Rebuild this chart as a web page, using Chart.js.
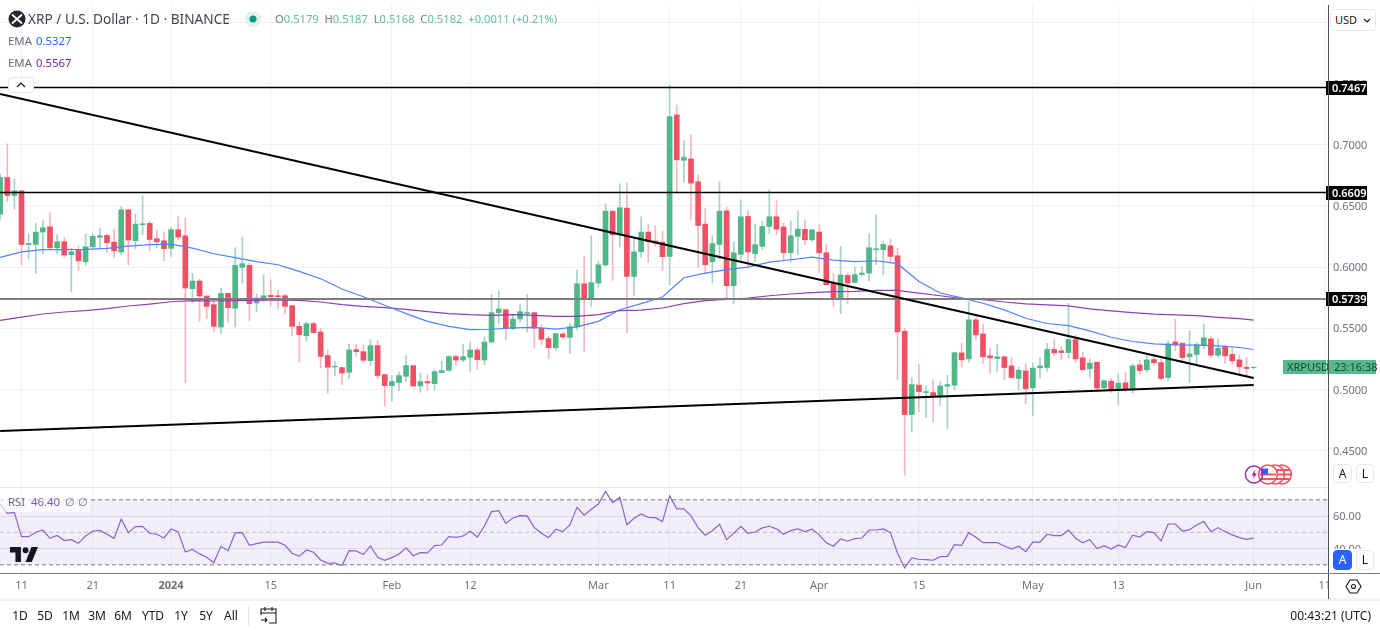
<!DOCTYPE html>
<html>
<head>
<meta charset="utf-8">
<title>XRP / U.S. Dollar</title>
<script src="https://cdn.jsdelivr.net/npm/chart.js@4"></script>
<style>
	html, body { margin: 0; padding: 0; background: #fff; overflow: hidden; }
	body { width: 1380px; height: 631px; position: relative; font-family: "Noto Sans", sans-serif; color: #555a66; }
	canvas { position: absolute; left: 0; }
	.txt { position: absolute; white-space: nowrap; line-height: 16px; }
	.box { position: absolute; box-sizing: border-box; background: #fff; }
	.btn { position: absolute; box-sizing: border-box; background: #fff; border: 1px solid #e6e8ee; border-radius: 4px; text-align: center; font-size: 12px; color: #131722; }
	.range { position: absolute; top: 608px; font-size: 12px; line-height: 16px; color: #131722; transform: translateX(-50%); }
</style>
</head>
<body>
<canvas id="priceChart" width="1380" height="482" style="top:5px"></canvas>
<canvas id="rsiChart" width="1380" height="112" style="top:488px"></canvas>

<!-- frame -->
<div class="box" style="left:0;top:487px;width:1328px;height:1px;background:#e3e6ee"></div>
<div class="box" style="left:1328px;top:574px;width:52px;height:25px"></div>
<div class="box" style="left:0;top:573px;width:1328px;height:1px;background:#7c7f86"></div>
<div class="box" style="left:0;top:598px;width:1380px;height:3px;background:#f0f3fa"></div>
<div class="box" style="left:1328px;top:5px;width:1px;height:594px;background:#50535c"></div>
<div class="box" style="left:1328px;top:573px;width:52px;height:1px;background:#7c7f86"></div>

<!-- header -->
<svg style="position:absolute;left:8px;top:10px" width="18" height="18" viewBox="0 0 18 18">
	<circle cx="9" cy="9" r="8.5" fill="#23262e"/>
	<path d="M4.5 5 L13.5 13 M13.5 5 L4.5 13" stroke="#fff" stroke-width="1.8" stroke-linecap="round"/>
</svg>
<div class="txt" style="left:28px;top:11px;font-size:13.65px;color:#434651">XRP / U.S. Dollar · 1D · BINANCE</div>
<svg style="position:absolute;left:244px;top:10px" width="18" height="18" viewBox="0 0 18 18">
	<circle cx="9" cy="9" r="8" fill="#dff1ec"/>
	<circle cx="9" cy="9" r="3.5" fill="#089981"/>
</svg>
<div class="txt" style="left:275px;top:11px;font-size:11.2px;color:#5cc29a">
	<span style="color:#787b86">O</span>0.5179&nbsp; <span style="color:#787b86">H</span>0.5187&nbsp; <span style="color:#787b86">L</span>0.5168&nbsp; <span style="color:#787b86">C</span>0.5182&nbsp; +0.0011 (+0.21%)
</div>
<div class="txt" style="left:8px;top:33px;font-size:11.4px;color:#6a6d78">EMA</div>
<div class="txt" style="left:36px;top:33px;font-size:11.4px;color:#2962ff">0.5327</div>
<div class="txt" style="left:8px;top:55px;font-size:11.4px;color:#6a6d78">EMA</div>
<div class="txt" style="left:36px;top:55px;font-size:11.4px;color:#7b1fa2">0.5567</div>
<div class="btn" style="left:8px;top:77px;width:26px;height:16px;border-radius:3px">
	<svg style="display:block;margin:4px auto 0" width="10" height="6" viewBox="0 0 10 6"><path d="M1 5 L5 1 L9 5" fill="none" stroke="#131722" stroke-width="1.2"/></svg>
</div>

<!-- USD button -->
<div class="btn" style="left:1330px;top:9px;width:46px;height:22px;text-align:left;padding:2px 0 0 4px;font-size:11px;line-height:16px">USD
	<svg style="position:absolute;right:4px;top:8px" width="8" height="5" viewBox="0 0 8 5"><path d="M1 1 L4 4 L7 1" fill="none" stroke="#131722" stroke-width="1.1"/></svg>
</div>

<!-- event markers -->
<svg style="position:absolute;left:1244px;top:464px" width="52" height="22" viewBox="0 0 52 22">
	<circle cx="38" cy="10.500" r="9.400" fill="#fff" stroke="#f7525f" stroke-width="1.500"/>
	<path d="M30 6h16M29 10.500h18M30 15h16" stroke="#f7525f" stroke-width="2"/>
	<circle cx="31" cy="10.500" r="9.400" fill="#fff" stroke="#f7525f" stroke-width="1.500"/>
	<path d="M23 6h16M22 10.500h18M23 15h16" stroke="#f7525f" stroke-width="2"/>
	<circle cx="24" cy="10.500" r="9.400" fill="#fff" stroke="#f7525f" stroke-width="1.500"/>
	<path d="M16 10.500h16M16 15h16" stroke="#f7525f" stroke-width="2"/>
	<rect x="17" y="4.500" width="7" height="6" fill="#2962ff"/>
	<circle cx="10" cy="10.500" r="8.600" fill="#fff" fill-opacity="0" stroke="#9c27b0" stroke-width="1.500"/>
	<path d="M11.500 5.500 L7.500 11.500 H10 L8.500 15.500 L13 9.500 H10.500 Z" fill="#9c27b0"/>
</svg>

<!-- scale buttons -->
<div class="btn" style="left:1333px;top:464px;width:19px;height:19px;line-height:17px">A</div>
<div class="btn" style="left:1356px;top:464px;width:18px;height:19px;line-height:17px">L</div>
<div class="box" style="left:1330px;top:549px;width:50px;height:24px"></div>
<div class="btn" style="left:1333px;top:550px;width:19px;height:20px;line-height:18px;background:#2962ff;border-color:#2962ff;color:#fff">A</div>
<div class="btn" style="left:1356px;top:550px;width:18px;height:20px;line-height:18px">L</div>

<!-- rsi legend -->
<div class="box" style="left:0;top:495px;width:90px;height:17px;background:rgba(255,255,255,0.65)"></div>
<div class="txt" style="left:8px;top:494px;font-size:11.4px;color:#6a6d78">RSI</div>
<div class="txt" style="left:31px;top:494px;font-size:11.4px;color:#7e57c2">46.40</div>
<div class="txt" style="left:65px;top:494px;font-size:11.4px;color:#6a6d78">∅ ∅</div>
<svg style="position:absolute;left:10px;top:547px" width="28" height="15" viewBox="0 0 36 19">
	<path d="M14 0H0v7h7v12h7V0zM28 19h-8L27.500 0H36l-8 19z" fill="#131722"/>
	<circle cx="20" cy="4" r="3.800" fill="#131722"/>
</svg>

<!-- settings -->
<svg style="position:absolute;left:1345px;top:578px" width="17" height="17" viewBox="0 0 17 17">
	<path d="M5 2h7l4 6.500-4 6.500H5L1 8.500z" fill="none" stroke="#131722" stroke-width="1.100"/>
	<circle cx="8.500" cy="8.500" r="2" fill="none" stroke="#131722" stroke-width="1.100"/>
</svg>

<!-- bottom bar -->
<div class="range" style="left:20px">1D</div>
<div class="range" style="left:45px">5D</div>
<div class="range" style="left:71px">1M</div>
<div class="range" style="left:97px">3M</div>
<div class="range" style="left:123px">6M</div>
<div class="range" style="left:153px">YTD</div>
<div class="range" style="left:181px">1Y</div>
<div class="range" style="left:206px">5Y</div>
<div class="range" style="left:231px">All</div>
<div class="box" style="left:248px;top:606px;width:1px;height:20px;background:#e0e3eb"></div>
<svg style="position:absolute;left:260px;top:606px" width="18" height="19" viewBox="0 0 18 19">
	<path d="M1 9V3h15v14H9M1 7h15M5 1v4M12 1v4M1 14h6M5 12l2 2-2 2" fill="none" stroke="#131722" stroke-width="1.100"/>
</svg>
<div class="txt" style="right:9px;top:608px;font-size:12px;color:#131722">00:43:21 (UTC)</div>

<script>
// daily candles, first one is Dec 8 2023 (day 0 = Dec 11), last one Jun 1 2024
const firstDay = -3;

const opens = [
	0.6433, 0.6732, 0.6585, 0.6623,
	0.6183, 0.6185, 0.6286, 0.6329, 0.6158, 0.6207, 0.6101, 0.6136, 0.6044, 0.6166,
	0.6245, 0.6259, 0.6204, 0.6123, 0.6468, 0.6215, 0.6346, 0.6357, 0.6232, 0.6215,
	0.6153, 0.6305, 0.6256, 0.5824, 0.5886, 0.5764, 0.5693, 0.5511, 0.5785, 0.5663,
	0.5998, 0.6014, 0.5707, 0.5745, 0.5769, 0.5766, 0.5766, 0.5685, 0.5516, 0.5440,
	0.5538, 0.5470, 0.5277, 0.5184, 0.5179, 0.5141, 0.5326, 0.5309, 0.5236, 0.5358,
	0.5122, 0.5032, 0.5057, 0.5108, 0.5195, 0.5029, 0.5065, 0.5048, 0.5138, 0.5157,
	0.5269, 0.5241, 0.5263, 0.5323, 0.5241, 0.5388, 0.5628, 0.5652, 0.5497, 0.5576,
	0.5620, 0.5628, 0.5500, 0.5416, 0.5342, 0.5454, 0.5426, 0.5513, 0.5864, 0.5745,
	0.5870, 0.6017, 0.6457, 0.6264, 0.6482, 0.5924, 0.6125, 0.6286, 0.6213, 0.6204,
	0.6087, 0.7243, 0.6873, 0.6884, 0.6697, 0.6351, 0.6044, 0.6185, 0.6460, 0.5848,
	0.6104, 0.6414, 0.6109, 0.6169, 0.6332, 0.6411, 0.6327, 0.6117, 0.6251, 0.6308,
	0.6223, 0.6286, 0.6117, 0.5870, 0.5745, 0.5932, 0.5875, 0.5941, 0.5951, 0.6142,
	0.6142, 0.6174, 0.6093, 0.5475, 0.4795, 0.5035, 0.4975, 0.4975, 0.4948, 0.5027,
	0.5035, 0.5299, 0.5250, 0.5569, 0.5454, 0.5275, 0.5253, 0.5267, 0.5193, 0.5090,
	0.5152, 0.5014, 0.5177, 0.5180, 0.5327, 0.5316, 0.5302, 0.5408, 0.5259, 0.5169,
	0.5223, 0.5014, 0.5068, 0.5003, 0.5055, 0.5003, 0.5201, 0.5161, 0.5245, 0.5220,
	0.5098, 0.5389, 0.5378, 0.5267, 0.5286, 0.5362, 0.5414, 0.5280, 0.5351, 0.5286,
	0.5242, 0.5182, 0.5179
];
const highs = [
	0.6759, 0.7007, 0.6718, 0.6623,
	0.6270, 0.6359, 0.6387, 0.6444, 0.6264, 0.6240, 0.6155, 0.6174, 0.6272, 0.6272,
	0.6319, 0.6272, 0.6310, 0.6495, 0.6468, 0.6436, 0.6582, 0.6373, 0.6305, 0.6289,
	0.6319, 0.6417, 0.6403, 0.5951, 0.5902, 0.5764, 0.5734, 0.5829, 0.5785, 0.6158,
	0.6245, 0.6033, 0.5780, 0.5938, 0.5897, 0.5810, 0.5775, 0.5685, 0.5549, 0.5552,
	0.5552, 0.5503, 0.5323, 0.5231, 0.5184, 0.5372, 0.5367, 0.5364, 0.5407, 0.5399,
	0.5122, 0.5114, 0.5144, 0.5277, 0.5195, 0.5135, 0.5122, 0.5163, 0.5231, 0.5277,
	0.5285, 0.5367, 0.5388, 0.5339, 0.5429, 0.5775, 0.5807, 0.5658, 0.5617, 0.5693,
	0.5775, 0.5628, 0.5530, 0.5435, 0.5462, 0.5467, 0.5538, 0.5976, 0.6087, 0.6256,
	0.6047, 0.6517, 0.6457, 0.6680, 0.6689, 0.6229, 0.6411, 0.6351, 0.6338, 0.6291,
	0.7488, 0.7325, 0.7031, 0.7080, 0.6754, 0.6479, 0.6256, 0.6697, 0.6490, 0.6204,
	0.6550, 0.6460, 0.6354, 0.6373, 0.6631, 0.6542, 0.6359, 0.6378, 0.6460, 0.6387,
	0.6310, 0.6346, 0.6191, 0.5946, 0.6169, 0.5951, 0.6000, 0.6006, 0.6272, 0.6427,
	0.6210, 0.6229, 0.6155, 0.5503, 0.5095, 0.5203, 0.5032, 0.5081, 0.5067, 0.5116,
	0.5304, 0.5378, 0.5718, 0.5596, 0.5533, 0.5337, 0.5370, 0.5275, 0.5261, 0.5182,
	0.5210, 0.5215, 0.5261, 0.5378, 0.5411, 0.5351, 0.5705, 0.5446, 0.5302, 0.5248,
	0.5223, 0.5079, 0.5093, 0.5128, 0.5139, 0.5210, 0.5242, 0.5283, 0.5283, 0.5256,
	0.5397, 0.5574, 0.5378, 0.5479, 0.5384, 0.5536, 0.5433, 0.5411, 0.5365, 0.5337,
	0.5283, 0.5264, 0.5187
];
const lows = [
	0.6392, 0.6536, 0.6474, 0.6019,
	0.6068, 0.5949, 0.6109, 0.6142, 0.6109, 0.6082, 0.5802, 0.5973, 0.6014, 0.6155,
	0.6161, 0.6120, 0.6079, 0.6101, 0.6017, 0.6147, 0.6264, 0.6134, 0.6155, 0.6052,
	0.6087, 0.6226, 0.5054, 0.5707, 0.5557, 0.5579, 0.5470, 0.5456, 0.5552, 0.5511,
	0.5870, 0.5562, 0.5633, 0.5720, 0.5685, 0.5658, 0.5617, 0.5440, 0.5222, 0.5394,
	0.5462, 0.5176, 0.4972, 0.5116, 0.5040, 0.5089, 0.5271, 0.5222, 0.5198, 0.5086,
	0.4863, 0.4904, 0.4991, 0.5067, 0.5027, 0.4978, 0.4991, 0.4994, 0.5135, 0.5149,
	0.5195, 0.5225, 0.5149, 0.5163, 0.5203, 0.5380, 0.5535, 0.5407, 0.5489, 0.5549,
	0.5470, 0.5337, 0.5367, 0.5255, 0.5320, 0.5413, 0.5296, 0.5484, 0.5312, 0.5679,
	0.5834, 0.6006, 0.5892, 0.6164, 0.5467, 0.5766, 0.6079, 0.6038, 0.6169, 0.5973,
	0.5856, 0.6604, 0.6691, 0.6392, 0.5998, 0.5951, 0.5870, 0.6060, 0.5734, 0.5698,
	0.6060, 0.5992, 0.6047, 0.6142, 0.6272, 0.6264, 0.6060, 0.6038, 0.6101, 0.6183,
	0.6210, 0.5957, 0.5856, 0.5679, 0.5620, 0.5701, 0.5870, 0.5924, 0.5889, 0.6019,
	0.5938, 0.6033, 0.5081, 0.4300, 0.4654, 0.4817, 0.4771, 0.4736, 0.4869, 0.4681,
	0.4999, 0.5182, 0.5223, 0.5411, 0.5215, 0.5133, 0.5147, 0.5079, 0.5093, 0.4992,
	0.4883, 0.4788, 0.5093, 0.5147, 0.5275, 0.5242, 0.5256, 0.5220, 0.5161, 0.5093,
	0.4992, 0.5003, 0.4976, 0.4875, 0.4984, 0.4970, 0.5128, 0.5139, 0.5201, 0.5079,
	0.5071, 0.5318, 0.5220, 0.5057, 0.5201, 0.5332, 0.5261, 0.5264, 0.5215, 0.5201,
	0.5120, 0.5112, 0.5168
];
const closes = [
	0.6732, 0.6585, 0.6623, 0.6185,
	0.6193, 0.6286, 0.6321, 0.6158, 0.6207, 0.6098, 0.6125, 0.6052, 0.6166, 0.6251,
	0.6256, 0.6199, 0.6134, 0.6468, 0.6221, 0.6351, 0.6354, 0.6226, 0.6207, 0.6150,
	0.6305, 0.6245, 0.5829, 0.5886, 0.5764, 0.5679, 0.5516, 0.5785, 0.5669, 0.6014,
	0.6028, 0.5701, 0.5747, 0.5766, 0.5758, 0.5758, 0.5679, 0.5516, 0.5448, 0.5538,
	0.5465, 0.5271, 0.5182, 0.5190, 0.5135, 0.5323, 0.5309, 0.5239, 0.5358, 0.5114,
	0.5032, 0.5065, 0.5114, 0.5195, 0.5029, 0.5065, 0.5054, 0.5146, 0.5154, 0.5269,
	0.5241, 0.5269, 0.5323, 0.5244, 0.5388, 0.5628, 0.5658, 0.5497, 0.5576, 0.5636,
	0.5628, 0.5500, 0.5410, 0.5342, 0.5456, 0.5429, 0.5513, 0.5864, 0.5745, 0.5873,
	0.6019, 0.6457, 0.6264, 0.6485, 0.5924, 0.6125, 0.6286, 0.6207, 0.6196, 0.6085,
	0.7230, 0.6876, 0.6898, 0.6686, 0.6340, 0.6019, 0.6191, 0.6457, 0.5848, 0.6117,
	0.6411, 0.6123, 0.6183, 0.6332, 0.6411, 0.6310, 0.6117, 0.6256, 0.6310, 0.6223,
	0.6305, 0.6117, 0.5856, 0.5745, 0.5935, 0.5870, 0.5938, 0.5951, 0.6158, 0.6150,
	0.6185, 0.6087, 0.5470, 0.4795, 0.5040, 0.4983, 0.4983, 0.4950, 0.5029, 0.5040,
	0.5301, 0.5242, 0.5569, 0.5446, 0.5267, 0.5259, 0.5267, 0.5180, 0.5098, 0.5158,
	0.5006, 0.5174, 0.5193, 0.5327, 0.5299, 0.5302, 0.5408, 0.5250, 0.5161, 0.5215,
	0.5011, 0.5071, 0.4997, 0.5052, 0.5003, 0.5193, 0.5155, 0.5242, 0.5218, 0.5090,
	0.5373, 0.5365, 0.5261, 0.5291, 0.5367, 0.5422, 0.5280, 0.5337, 0.5275, 0.5234,
	0.5185, 0.5171, 0.5182
];

// both EMAs every third day
const emaDays = [
	-3, 0, 3, 6, 9, 12, 15, 18, 21, 24, 27, 30, 33, 36, 39, 42, 45, 48, 51, 54,
	57, 60, 63, 66, 69, 72, 75, 78, 81, 84, 87, 90, 93, 96, 99, 102, 105, 108, 111, 114,
	117, 120, 123, 126, 129, 132, 135, 138, 141, 144, 147, 150, 153, 156, 159, 162, 165, 168, 171, 173
];
const emaFast = [
	0.6079, 0.6125, 0.6142, 0.6142, 0.6145, 0.6153, 0.6172, 0.6183, 0.6188, 0.6155,
	0.6109, 0.6077, 0.6044, 0.6019, 0.5965, 0.5905, 0.5821, 0.5758, 0.5688, 0.5620,
	0.5557, 0.5516, 0.5489, 0.5492, 0.5503, 0.5508, 0.5494, 0.5511, 0.5557, 0.5652,
	0.5701, 0.5756, 0.5913, 0.5951, 0.5979, 0.6000, 0.6041, 0.6060, 0.6082, 0.6057,
	0.6044, 0.6052, 0.6028, 0.5883, 0.5788, 0.5748, 0.5705, 0.5650, 0.5582, 0.5539,
	0.5522, 0.5479, 0.5427, 0.5392, 0.5373, 0.5365, 0.5362, 0.5356, 0.5343, 0.5327
];
const emaSlow = [
	0.5565, 0.5592, 0.5617, 0.5633, 0.5644, 0.5660, 0.5682, 0.5698, 0.5717, 0.5726,
	0.5723, 0.5726, 0.5728, 0.5731, 0.5728, 0.5715, 0.5693, 0.5679, 0.5669, 0.5655,
	0.5636, 0.5620, 0.5611, 0.5606, 0.5611, 0.5606, 0.5598, 0.5598, 0.5611, 0.5644,
	0.5649, 0.5666, 0.5701, 0.5726, 0.5737, 0.5747, 0.5766, 0.5780, 0.5791, 0.5799,
	0.5802, 0.5810, 0.5810, 0.5788, 0.5766, 0.5743, 0.5735, 0.5715, 0.5699, 0.5691,
	0.5683, 0.5658, 0.5642, 0.5628, 0.5615, 0.5609, 0.5604, 0.5590, 0.5579, 0.5567
];

const rsiValues = [
	67.4, 61.7, 62.3, 47.3,
	47.3, 50.0, 51.4, 46.3, 48.0, 44.9, 45.5, 43.2, 47.7, 50.8,
	51.2, 48.8, 46.3, 58.0, 49.8, 53.5, 53.7, 49.4, 48.8, 46.5,
	52.1, 50.2, 37.9, 39.5, 36.7, 34.6, 31.3, 41.4, 38.7, 49.6,
	49.8, 42.0, 43.0, 43.9, 43.9, 43.9, 42.0, 37.1, 35.2, 39.1,
	37.7, 33.0, 30.9, 31.1, 29.5, 38.7, 38.5, 36.3, 41.6, 34.6,
	32.8, 34.4, 36.7, 40.4, 35.6, 37.5, 37.3, 41.8, 42.2, 47.3,
	46.9, 47.7, 50.6, 47.1, 53.9, 62.7, 63.3, 55.5, 58.8, 60.3,
	60.1, 52.9, 49.4, 46.7, 51.9, 50.4, 54.5, 65.4, 60.5, 64.2,
	67.4, 75.2, 68.3, 71.5, 54.5, 58.6, 61.3, 59.2, 59.0, 56.6,
	72.4, 64.4, 64.4, 60.1, 52.9, 48.2, 51.0, 54.9, 45.5, 49.4,
	53.7, 49.4, 50.2, 52.7, 53.7, 52.1, 48.8, 51.0, 52.1, 50.4,
	51.9, 48.4, 43.6, 41.4, 45.9, 44.5, 46.1, 46.5, 51.4, 51.4,
	52.1, 49.8, 37.1, 28.1, 34.2, 33.4, 33.2, 32.8, 35.0, 35.2,
	42.4, 42.0, 49.8, 46.9, 43.6, 43.6, 43.6, 41.6, 39.7, 41.4,
	38.1, 43.9, 43.9, 48.8, 48.0, 48.0, 51.4, 46.3, 43.6, 45.5,
	40.0, 41.8, 39.7, 42.2, 40.6, 48.2, 47.1, 50.4, 49.8, 44.7,
	55.1, 55.1, 50.8, 51.6, 54.5, 56.6, 50.4, 52.9, 50.4, 48.4,
	46.7, 45.7, 46.4
];

// drawn lines
const levels = [0.7467, 0.6609, 0.5739];
const trendDays = [-3, 173];
const trendDown = [0.7414, 0.5094];
const trendUp = [0.4661, 0.5037];
const rsiBands = [70, 50, 30];

// axes
const priceTicks = [0.45, 0.5, 0.55, 0.6, 0.65, 0.7, 0.75, 0.8];
const rsiTicks = [40, 60];
const timeTickDays = [0, 10, 21, 35, 52, 63, 81, 91, 101, 112, 126, 142, 154, 173, 183];
const timeTickLabels = ["11", "21", "2024", "15", "Feb", "12", "Mar", "11", "21", "Apr", "15", "May", "13", "Jun", "11"];

const UP = "#4fb788";
const DOWN = "#ef5064";
const UP_WICK = "#a6cfcd";
const DOWN_WICK = "#f7b5c0";
const GRID = "#eef2f6";
const AXIS_TEXT = "#6f727c";
const FONT = "'Noto Sans', sans-serif";

document.addEventListener("DOMContentLoaded", function () {
	const days = opens.map((_, i) => firstDay + i);
	const isUp = opens.map((o, i) => closes[i] >= o);
	const xAxis = { type: "linear", min: -3.02, max: 183.44, offset: false };

	function pairs(xs, ys) {
		return xs.map((x, i) => ({ x: x, y: ys[i] }));
	}

	// price tags on the right axis
	const priceTags = {
		id: "priceTags",
		afterDraw: function (chart) {
			const c = chart.ctx;
			const y = chart.scales.y;
			const left = chart.chartArea.right;
			c.save();
			c.textBaseline = "middle";
			c.font = "600 11px " + FONT;
			levels.forEach(function (level) {
				const py = Math.round(y.getPixelForValue(level));
				c.fillStyle = "#000";
				c.fillRect(left - 2, py - 7, 41, 14);
				c.fillStyle = "#fff";
				c.textAlign = "left";
				c.fillText(level.toFixed(4), left + 4, py + 0.5);
			});
			const last = Math.round(y.getPixelForValue(closes[closes.length - 1]));
			c.fillStyle = "#55b98c";
			c.fillRect(left - 45, last - 7, 93, 14);
			c.fillStyle = "#d9f0e5";
			c.fillRect(left - 2, last - 7, 1, 14);
			c.fillStyle = "#174a37";
			c.font = "11px " + FONT;
			c.fillText("XRPUSD", left - 41, last + 0.5);
			c.fillText("23:16:38", left + 6, last + 0.5);
			c.restore();
		},
	};

	new Chart(document.getElementById("priceChart").getContext("2d"), {
		type: "bar",
		plugins: [priceTags],
		data: {
			datasets: [
				{ type: "line", data: pairs(trendDays, trendDown), borderColor: "#000", borderWidth: 2, pointRadius: 0, order: 1 },
				{ type: "line", data: pairs(trendDays, trendUp), borderColor: "#000", borderWidth: 2, pointRadius: 0, order: 1 },
				{ type: "line", data: pairs([-4, 190], [levels[0], levels[0]]), borderColor: "#000", borderWidth: 1.4, pointRadius: 0, order: 2 },
				{ type: "line", data: pairs([-4, 190], [levels[1], levels[1]]), borderColor: "#000", borderWidth: 1.4, pointRadius: 0, order: 2 },
				{ type: "line", data: pairs([-4, 190], [levels[2], levels[2]]), borderColor: "#7d7d7d", borderWidth: 2, pointRadius: 0, order: 2 },
				{ type: "line", data: pairs(emaDays, emaFast), borderColor: "#4f83ff", borderWidth: 1.2, pointRadius: 0, order: 3 },
				{ type: "line", data: pairs(emaDays, emaSlow), borderColor: "#8e3fb5", borderWidth: 1.2, pointRadius: 0, order: 3 },
				{
					data: days.map((d, i) => ({ x: d, y: [opens[i], closes[i]] })),
					backgroundColor: isUp.map((u) => (u ? UP : DOWN)),
					barThickness: 5,
					grouped: false,
					order: 4,
				},
				{
					data: days.map((d, i) => ({ x: d, y: [lows[i], highs[i]] })),
					backgroundColor: isUp.map((u) => (u ? UP_WICK : DOWN_WICK)),
					barThickness: 1,
					grouped: false,
					order: 5,
				},
			],
		},
		options: {
			responsive: false,
			animation: false,
			events: [],
			layout: { padding: 0 },
			plugins: { legend: { display: false }, tooltip: { enabled: false } },
			scales: {
				x: {
					...xAxis,
					afterBuildTicks: function (s) {
						s.ticks = timeTickDays.map((v) => ({ value: v }));
					},
					ticks: { display: false },
					grid: { color: GRID, drawTicks: false, offset: false },
					border: { display: false },
				},
				y: {
					position: "right",
					min: 0.42034,
					max: 0.81413,
					afterBuildTicks: function (s) {
						s.ticks = priceTicks.map((v) => ({ value: v }));
					},
					afterFit: function (s) {
						s.width = 52;
						s.paddingTop = 0;
						s.paddingBottom = 0;
					},
					ticks: {
						padding: 5,
						labelOffset: 1,
						color: AXIS_TEXT,
						font: { size: 11, family: FONT },
						callback: function (v) {
							return v.toFixed(4);
						},
					},
					grid: { color: GRID, drawTicks: false },
					border: { display: false },
				},
			},
		},
	});

	new Chart(document.getElementById("rsiChart").getContext("2d"), {
		type: "line",
		data: {
			datasets: [
				{ data: pairs(days, rsiValues), borderColor: "#8a63cf", borderWidth: 1.2, pointRadius: 0, order: 1 },
				{
					data: pairs([-4, 190], [rsiBands[0], rsiBands[0]]),
					borderColor: "#787b86",
					borderWidth: 1,
					borderDash: [4, 3],
					pointRadius: 0,
					fill: { target: { value: rsiBands[2] } },
					backgroundColor: "rgba(126, 87, 194, 0.1)",
					order: 2,
				},
				{ data: pairs([-4, 190], [rsiBands[1], rsiBands[1]]), borderColor: "#c4c6cc", borderWidth: 1, borderDash: [4, 3], pointRadius: 0, order: 2 },
				{ data: pairs([-4, 190], [rsiBands[2], rsiBands[2]]), borderColor: "#787b86", borderWidth: 1, borderDash: [4, 3], pointRadius: 0, order: 2 },
			],
		},
		options: {
			responsive: false,
			animation: false,
			events: [],
			layout: { padding: 0 },
			plugins: { legend: { display: false }, tooltip: { enabled: false } },
			scales: {
				x: {
					...xAxis,
					afterBuildTicks: function (s) {
						s.ticks = timeTickDays.map((v) => ({ value: v }));
					},
					afterFit: function (s) {
						s.height = 26;
						s.paddingLeft = 0;
						s.paddingRight = 0;
					},
					ticks: {
						autoSkip: false,
						maxRotation: 0,
						padding: 5,
						color: AXIS_TEXT,
						font: function (ctx) {
							const bold = ctx.tick && ctx.tick.value === 21;
							return { size: 11, family: FONT, weight: bold ? "bold" : "normal" };
						},
						callback: function (v) {
							return timeTickLabels[timeTickDays.indexOf(v)];
						},
					},
					grid: { color: GRID, drawTicks: false },
					border: { display: false },
				},
				y: {
					position: "right",
					min: 24.34,
					max: 77.26,
					afterBuildTicks: function (s) {
						s.ticks = rsiTicks.map((v) => ({ value: v }));
					},
					afterFit: function (s) {
						s.width = 52;
						s.paddingTop = 0;
						s.paddingBottom = 0;
					},
					ticks: {
						padding: 5,
						labelOffset: 1,
						color: AXIS_TEXT,
						font: { size: 11, family: FONT },
						callback: function (v) {
							return v.toFixed(2);
						},
					},
					grid: { color: "#e4e6ee", drawTicks: false },
					border: { display: false },
				},
			},
		},
	});
});
</script>
</body>
</html>
